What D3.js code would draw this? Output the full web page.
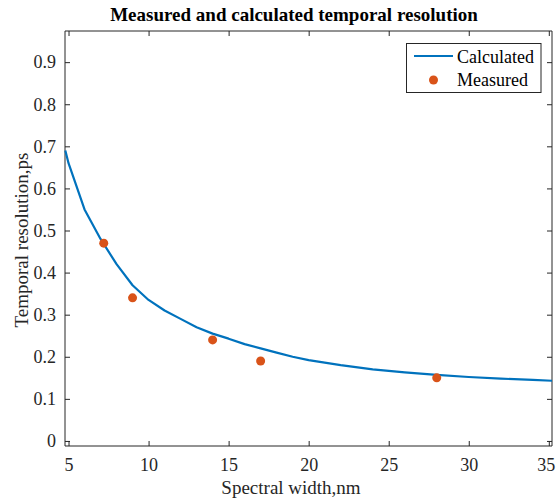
<!DOCTYPE html>
<html>
<head>
<meta charset="utf-8">
<script src="https://cdn.jsdelivr.net/npm/d3@7"></script>
<style>
  html, body { margin: 0; padding: 0; background: #fff; }
  svg { display: block; }
  text { font-family: "Liberation Serif", "Times New Roman", serif; fill: #262626; }
</style>
</head>
<body>
<svg id="chart" width="556" height="501"></svg>
<script>
// Calculated curve: spectral width (nm) vs temporal resolution (ps)
const calcWidth = [4.8, 5, 6, 7, 8, 9, 10, 11, 12, 13, 14, 15, 16, 17, 18, 19, 20, 22, 24, 26, 28, 30, 32, 34, 35.2];
const calcRes   = [0.69, 0.66, 0.55, 0.48, 0.42, 0.37, 0.335, 0.31, 0.29, 0.27, 0.255, 0.243, 0.23, 0.22, 0.21, 0.20, 0.192, 0.18, 0.17, 0.163, 0.157, 0.152, 0.148, 0.145, 0.143];

// Measured points
const measWidth = [7.2, 9, 14, 17, 28];
const measRes   = [0.47, 0.34, 0.24, 0.19, 0.15];

const xTicks = [5, 10, 15, 20, 25, 30, 35];
const yTicks = [0, 0.1, 0.2, 0.3, 0.4, 0.5, 0.6, 0.7, 0.8, 0.9];

const box = { left: 65, right: 552, top: 31, bottom: 446 };
const axisColor = "#262626";
const lineColor = "#0072BD";
const dotColor = "#D95319";
const serif = '"Liberation Serif", "Times New Roman", serif';

const svg = d3.select("#chart");

const x = d3.scaleLinear().domain([4.78, 35.2]).range([box.left, box.right]);
const y = d3.scaleLinear().domain([-0.012, 0.974]).range([box.bottom, box.top]);

const tickLen = 5;
const fmt = d => d === 0 ? "0" : d3.format("")(d);

// Bottom axis with labels, ticks pointing inward
const gx = svg.append("g").attr("transform", `translate(0,${box.bottom})`)
  .call(d3.axisBottom(x).tickValues(xTicks).tickSize(-tickLen).tickPadding(12).tickFormat(fmt));
// Top axis (ticks only)
const gxt = svg.append("g").attr("transform", `translate(0,${box.top})`)
  .call(d3.axisTop(x).tickValues(xTicks).tickSize(-tickLen).tickFormat(""));
// Left axis with labels
const gy = svg.append("g").attr("transform", `translate(${box.left},0)`)
  .call(d3.axisLeft(y).tickValues(yTicks).tickSize(-tickLen).tickPadding(9).tickFormat(fmt));
// Right axis (ticks only)
const gyr = svg.append("g").attr("transform", `translate(${box.right},0)`)
  .call(d3.axisRight(y).tickValues(yTicks).tickSize(-tickLen).tickFormat(""));

[gx, gxt, gy, gyr].forEach(g => {
  g.attr("font-family", serif);
  g.select(".domain").attr("stroke", axisColor).attr("stroke-width", 1);
  g.selectAll(".tick line").attr("stroke", axisColor).attr("stroke-width", 1);
  g.selectAll(".tick text")
    .style("font-family", serif)
    .attr("font-size", 18).attr("fill", axisColor);
});
// keep the last x label inside the figure edge
gx.selectAll(".tick text").filter(d => d === 35).attr("dx", -3);

gx.select(".domain").attr("d", `M${box.left},0H${box.right}`);
gxt.select(".domain").attr("d", `M${box.left},0H${box.right}`);
gy.select(".domain").attr("d", `M0,${box.top}V${box.bottom}`);
gyr.select(".domain").attr("d", `M0,${box.top}V${box.bottom}`);

// Calculated line
const calcData = calcWidth.map((w, i) => [w, calcRes[i]]);
svg.append("path")
  .datum(calcData)
  .attr("fill", "none")
  .attr("stroke", lineColor)
  .attr("stroke-width", 2.2)
  .attr("stroke-linejoin", "round")
  .attr("d", d3.line().x(d => x(d[0])).y(d => y(d[1])));

// Measured points
svg.append("g").selectAll("circle")
  .data(measWidth.map((w, i) => [w, measRes[i]]))
  .join("circle")
  .attr("cx", d => x(d[0]))
  .attr("cy", d => y(d[1]))
  .attr("r", 4.5)
  .attr("fill", dotColor);

// Title and axis labels
svg.append("text")
  .attr("x", 294).attr("y", 21)
  .attr("text-anchor", "middle")
  .attr("font-size", 19).attr("font-weight", "bold")
  .style("fill", "#000")
  .text("Measured and calculated temporal resolution");

svg.append("text")
  .attr("x", 291).attr("y", 494)
  .attr("text-anchor", "middle")
  .attr("font-size", 19)
  .text("Spectral width,nm");

svg.append("text")
  .attr("transform", "translate(28,240) rotate(-90)")
  .attr("text-anchor", "middle")
  .attr("font-size", 19)
  .text("Temporal resolution,ps");

// Legend
const leg = svg.append("g");
leg.append("rect")
  .attr("x", 406.5).attr("y", 43.5).attr("width", 134.5).attr("height", 49)
  .attr("fill", "#fff").attr("stroke", axisColor).attr("stroke-width", 1);
leg.append("line")
  .attr("x1", 414).attr("x2", 453).attr("y1", 56).attr("y2", 56)
  .attr("stroke", lineColor).attr("stroke-width", 2.2);
leg.append("circle")
  .attr("cx", 433.5).attr("cy", 80).attr("r", 4.5).attr("fill", dotColor);
leg.append("text").attr("x", 457).attr("y", 63).attr("font-size", 18).style("fill", "#000").text("Calculated");
leg.append("text").attr("x", 457).attr("y", 86).attr("font-size", 18).style("fill", "#000").text("Measured");
</script>
</body>
</html>
